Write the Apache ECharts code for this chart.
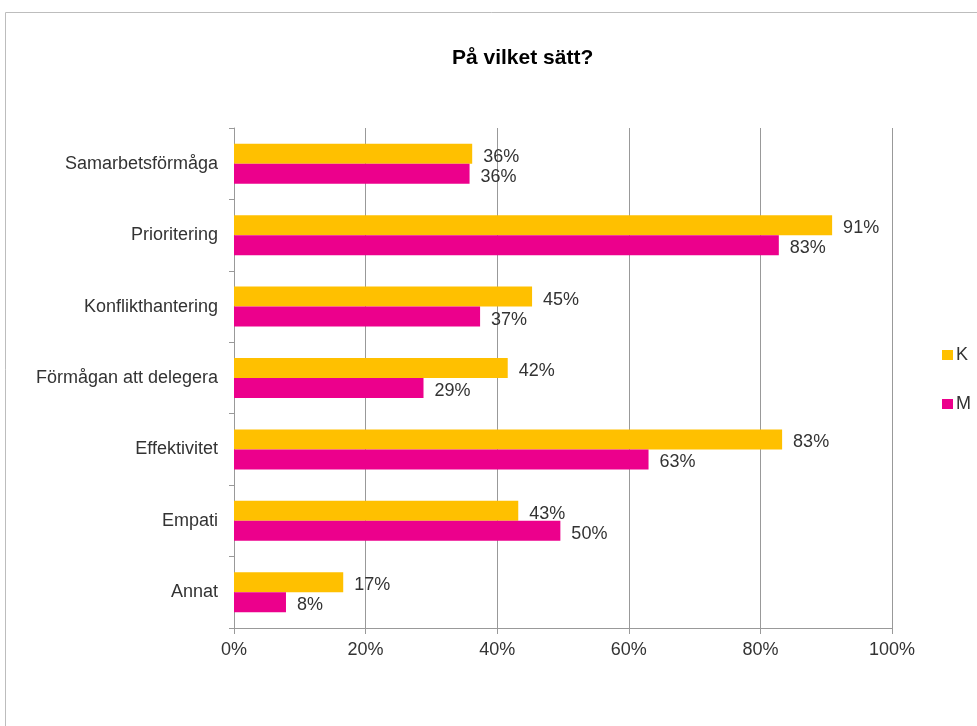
<!DOCTYPE html>
<html>
<head>
<meta charset="utf-8">
<script src="https://cdn.jsdelivr.net/npm/echarts@6/dist/echarts.min.js"></script>
<style>
  html, body { margin: 0; padding: 0; background: #fff; }
  #chart { width: 977px; height: 726px; }
</style>
</head>
<body>
<div id="chart"></div>
<script>
// kategorier och värden (procent)
const categories = ['Samarbetsförmåga', 'Prioritering', 'Konflikthantering', 'Förmågan att delegera', 'Effektivitet', 'Empati', 'Annat']
const valuesK = [36.2, 90.9, 45.3, 41.6, 83.3, 43.2, 16.6]
const valuesM = [35.8, 82.8, 37.4, 28.8, 63.0, 49.6, 7.9]
const xTicks = [0, 20, 40, 60, 80, 100]

const FONT = 'Liberation Sans'
const chart = echarts.init(document.getElementById('chart'))

const labelStyle = {
  show: true,
  position: 'right',
  distance: 11,
  offset: [0, 3],
  fontFamily: FONT,
  fontSize: 18,
  color: '#333',
  formatter: (p) => Math.round(p.value) + '%',
}

chart.setOption({
  animation: false,
  textStyle: { fontFamily: FONT },
  title: {
    text: 'På vilket sätt?',
    left: 447,
    top: 43,
    textStyle: { fontSize: 21, fontWeight: 'bold', color: '#000', fontFamily: FONT },
  },
  // ram runt diagrammet
  graphic: [{
    type: 'rect',
    shape: { x: 5.5, y: 12.5, width: 990, height: 740 },
    style: { fill: 'none', stroke: '#bdbdbd', lineWidth: 1 },
    silent: true,
  }],
  legend: {
    orient: 'vertical',
    left: 937,
    top: 341,
    itemWidth: 11,
    itemHeight: 10,
    itemGap: 31,
    icon: 'rect',
    textStyle: { fontSize: 18, color: '#333', padding: [0, 0, 0, -2] },
    data: ['K', 'M'],
  },
  grid: { left: 234, right: 85, top: 128, bottom: 98 },
  xAxis: {
    type: 'value',
    min: 0,
    max: 100,
    interval: 20,
    axisLine: { show: true, lineStyle: { color: '#999' } },
    axisTick: { show: true, length: 6, lineStyle: { color: '#999' } },
    splitLine: { show: true, lineStyle: { color: '#999' } },
    axisLabel: {
      fontSize: 18,
      color: '#333',
      margin: 13,
      formatter: (v) => (xTicks.includes(v) ? v + '%' : ''),
    },
  },
  yAxis: {
    type: 'category',
    inverse: true,
    data: categories,
    axisLine: { show: true, lineStyle: { color: '#999' } },
    axisTick: { show: true, length: 5, lineStyle: { color: '#999' } },
    axisLabel: { fontSize: 18, color: '#333', margin: 16 },
  },
  series: [
    {
      name: 'K',
      type: 'bar',
      data: valuesK,
      barGap: '0%',
      barCategoryGap: '44%',
      itemStyle: { color: '#FFC000' },
      label: labelStyle,
    },
    {
      name: 'M',
      type: 'bar',
      data: valuesM,
      itemStyle: { color: '#EC008C' },
      label: labelStyle,
    },
  ],
})
</script>
</body>
</html>
